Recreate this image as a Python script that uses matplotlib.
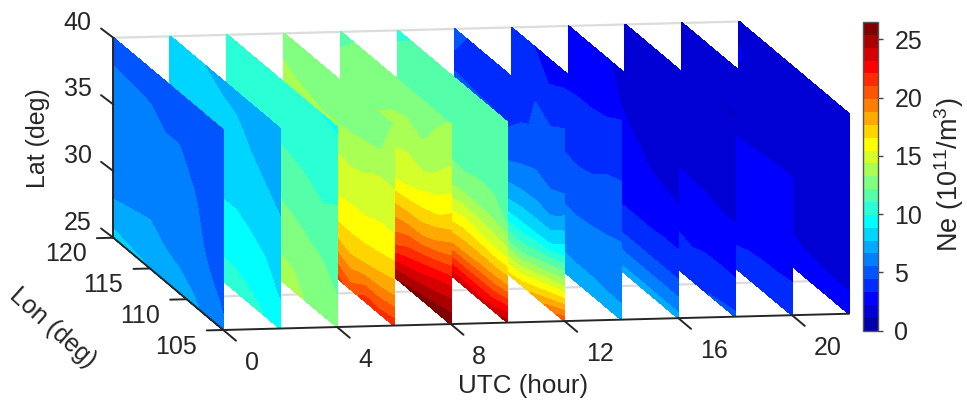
import numpy as np
import matplotlib
matplotlib.use("Agg")
import matplotlib.pyplot as plt
from matplotlib.colors import ListedColormap, BoundaryNorm
from matplotlib.cm import ScalarMappable
from matplotlib.transforms import Affine2D

plt.rcParams['font.family'] = ['Liberation Sans', 'DejaVu Sans']
plt.rcParams['mathtext.default'] = 'regular'

# ---- data -----------------------------------------------------------
hours = [0, 2, 4, 6, 8, 10, 12, 14, 16, 18, 20, 22]
lons = [105, 107, 109, 111, 113, 115, 120]
lats = [25, 27.5, 30, 32.5, 35, 37.5, 40]
# each slice: one row per longitude, values from lat 25 up to lat 40
ne_00 = [[5.7, 5.3, 5.2, 5.1, 5.0, 4.9, 4.8], [6.3, 5.7, 5.3, 5.0, 5.0, 4.9, 4.8],
         [6.8, 6.2, 5.9, 5.7, 5.3, 5.0, 4.8], [7.1, 6.45, 6.1, 5.9, 5.7, 5.3, 5.0],
         [7.4, 6.62, 6.3, 6.0, 5.7, 5.3, 5.0], [7.7, 6.9, 6.3, 6.0, 5.9, 5.5, 5.1],
         [8.1, 6.7, 6.2, 6.0, 5.9, 5.6, 5.1]]
ne_02 = [[9.5, 8.7, 8.2, 7.9, 7.4, 7.0, 6.8], [9.9, 9.2, 8.7, 8.2, 7.7, 7.2, 7.0],
         [10.2, 9.5, 8.9, 8.4, 8.0, 7.5, 7.1], [10.4, 9.7, 9.1, 8.5, 8.2, 7.9, 7.3],
         [10.5, 9.7, 9.1, 8.5, 8.2, 8.0, 7.5], [10.5, 9.6, 9.0, 8.5, 8.2, 8.0, 7.7],
         [10.5, 9.6, 9.0, 8.5, 8.2, 8.2, 8.2]]
ne_04 = [[12.6, 12.1, 11.7, 11.3, 10.9, 10.4, 9.8], [12.9, 12.4, 12.0, 11.2, 10.7, 10.5, 9.9],
         [13.1, 12.6, 12.1, 11.4, 10.9, 10.5, 10.3], [13.6, 13.0, 12.3, 11.6, 11.0, 10.5, 10.5],
         [13.9, 13.1, 12.4, 11.8, 11.1, 10.5, 10.5], [13.9, 13.0, 12.4, 11.8, 11.1, 10.5, 10.5],
         [13.9, 13.0, 12.4, 11.8, 11.1, 10.7, 10.5]]
ne_06 = [[21.6, 18.4, 16.4, 15.1, 14.4, 13.9, 13.3], [21.3, 18.1, 16.2, 15.2, 14.5, 13.1, 12.6],
         [21.5, 17.9, 16.0, 15.0, 14.2, 13.0, 12.4], [20.3, 17.7, 16.0, 15.0, 14.0, 12.9, 12.3],
         [21.4, 18.1, 15.9, 14.9, 14.2, 12.7, 12.3], [21.5, 18.1, 15.9, 14.9, 14.2, 12.7, 12.4],
         [21.5, 18.1, 15.9, 14.9, 14.2, 13.4, 12.6]]
ne_08 = [[26.3, 23.6, 20.0, 17.1, 15.3, 14.0, 13.3], [26.0, 23.0, 19.1, 16.3, 14.5, 13.6, 12.9],
         [25.8, 22.3, 18.4, 15.9, 14.1, 13.0, 12.7], [25.5, 21.6, 18.4, 15.5, 14.4, 13.3, 12.7],
         [25.2, 20.6, 18.2, 15.3, 14.2, 13.2, 12.7], [25.0, 20.0, 18.0, 15.0, 14.0, 12.6, 12.6],
         [25.0, 20.0, 18.0, 15.0, 13.5, 12.4, 11.9]]
ne_10 = [[24.7, 19.2, 15.0, 12.0, 11.8, 11.6, 11.4], [23.7, 18.9, 15.1, 12.5, 11.8, 11.5, 11.4],
         [23.6, 18.9, 15.3, 12.6, 11.8, 11.5, 11.3], [23.7, 18.7, 15.6, 12.6, 11.5, 11.3, 11.3],
         [23.8, 18.6, 15.2, 12.5, 11.8, 11.4, 11.3], [23.8, 18.6, 15.0, 12.5, 11.8, 11.3, 11.3],
         [23.8, 18.6, 15.0, 12.5, 11.8, 11.3, 10.9]]
ne_12 = [[20.6, 14.5, 9.6, 6.9, 5.2, 4.8, 4.3], [19.2, 13.6, 8.6, 6.1, 5.1, 4.6, 4.2],
         [18.0, 12.7, 8.4, 6.4, 5.3, 4.5, 4.4], [17.0, 11.9, 8.4, 6.3, 5.0, 4.3, 4.3],
         [16.6, 12.1, 8.2, 6.0, 4.6, 4.0, 4.3], [16.5, 12.0, 8.2, 6.0, 4.7, 4.2, 4.0],
         [16.5, 12.0, 8.2, 6.0, 4.7, 4.3, 4.6]]
ne_14 = [[6.9, 6.3, 5.7, 5.1, 4.5, 3.9, 3.3], [7.0, 6.2, 5.6, 5.1, 4.4, 3.8, 3.1],
         [7.0, 6.3, 5.55, 4.9, 4.1, 3.6, 3.1], [7.0, 6.3, 5.5, 4.8, 4.0, 3.6, 3.1],
         [7.2, 6.2, 5.55, 4.9, 4.1, 3.5, 3.1], [7.2, 6.2, 5.5, 4.9, 4.0, 3.4, 3.0],
         [7.2, 6.2, 5.5, 4.9, 4.0, 3.8, 3.8]]
ne_16 = [[7.0, 4.6, 3.35, 2.4, 1.9, 1.7, 1.5], [7.0, 4.6, 3.35, 2.45, 2.0, 1.7, 1.5],
         [7.0, 4.6, 3.3, 2.55, 2.1, 1.7, 1.5], [7.0, 4.6, 3.3, 2.7, 2.4, 1.8, 1.5],
         [7.0, 4.6, 3.3, 2.75, 2.55, 2.2, 1.7], [7.0, 4.6, 3.3, 2.8, 2.7, 2.7, 2.6],
         [7.0, 4.6, 3.3, 2.8, 2.8, 2.7, 2.7]]
ne_18 = [[4.6, 3.4, 2.8, 2.05, 1.5, 1.2, 1.1], [4.5, 3.4, 2.85, 2.05, 1.5, 1.2, 1.1],
         [4.4, 3.4, 2.8, 2.2, 1.6, 1.3, 1.2], [4.2, 3.3, 2.8, 2.2, 1.6, 1.3, 1.2],
         [4.2, 3.4, 2.8, 2.25, 1.7, 1.3, 1.2], [4.2, 3.4, 2.8, 2.3, 1.7, 1.3, 1.3],
         [4.2, 3.4, 2.8, 2.3, 1.7, 1.3, 1.3]]
ne_20 = [[3.9, 3.3, 2.9, 2.6, 2.3, 1.6, 1.4], [3.9, 3.25, 2.9, 2.6, 2.3, 1.6, 1.4],
         [3.8, 3.25, 2.9, 2.6, 2.25, 1.6, 1.4], [3.8, 3.2, 2.9, 2.6, 2.2, 1.7, 1.5],
         [3.7, 3.1, 2.8, 2.6, 2.2, 1.7, 1.5], [3.7, 3.1, 2.8, 2.6, 2.0, 1.7, 1.5],
         [3.7, 3.1, 2.8, 2.6, 2.0, 1.7, 1.5]]
ne_22 = [[2.6, 2.0, 1.7, 1.5, 1.4, 1.3, 1.3], [2.6, 2.0, 1.7, 1.5, 1.4, 1.3, 1.3],
         [2.6, 2.05, 1.7, 1.5, 1.4, 1.3, 1.3], [2.6, 2.1, 1.8, 1.5, 1.4, 1.3, 1.3],
         [2.6, 2.2, 1.8, 1.5, 1.4, 1.3, 1.3], [2.6, 2.2, 1.8, 1.5, 1.4, 1.6, 1.3],
         [2.6, 2.2, 1.8, 1.6, 1.8, 2.3, 1.9]]
slices = [ne_00, ne_02, ne_04, ne_06, ne_08, ne_10, ne_12, ne_14, ne_16, ne_18, ne_20, ne_22]

hour_ticks = [0, 4, 8, 12, 16, 20]
lon_ticks = [105, 110, 115, 120]
lat_ticks = [25, 30, 35, 40]
cbar_ticks = [0, 5, 10, 15, 20, 25]
vmax = 26.5
n_bands = 24

# ---- colours: the 24-step jet table --------------------------------
u = np.r_[np.arange(1, 7) / 6, np.ones(5), np.arange(6, 0, -1) / 6]
g = 3 + np.arange(1, 18)
rgb = np.zeros((n_bands, 3))
for channel, idx in enumerate([g + 6, g, g - 6]):
    keep = (idx >= 1) & (idx <= n_bands)
    rgb[idx[keep] - 1, channel] = u[keep]
cmap = ListedColormap(rgb)
levels = np.linspace(0, vmax, n_bands + 1)
norm = BoundaryNorm(levels, n_bands)

# ---- oblique projection (hour, lon, lat) -> figure pixels ----------
X0, Y0 = 223.3, 330.0
HX, HY = 28.44, -0.74
LX, LY = -7.33, -6.15
ZY = -13.33


def project(h, lon, lat):
    return (X0 + HX * h + LX * (lon - lons[0]),
            Y0 + HY * h + LY * (lon - lons[0]) + ZY * (lat - lats[0]))


DARK = '#262626'
FS = 18
fig = plt.figure(figsize=(9.67, 4.0), dpi=100)
ax = fig.add_axes([0, 0, 1, 1])

# grey box lines behind the slices
for a, b in [((hours[0], lons[-1], lats[-1]), (hours[-1], lons[-1], lats[-1])),
             ((hours[0], 110.3, lats[0]), (hours[-1], 110.3, lats[0]))]:
    p, q = project(*a), project(*b)
    ax.plot([p[0], q[0]], [p[1], q[1]], color='#dcdcdc', lw=1.6, zorder=1, solid_capstyle='butt')

# slices, far ones first
LON, LAT = np.meshgrid(lons, lats)
for i in range(len(hours) - 1, -1, -1):
    h = hours[i]
    Z = np.array(slices[i]).T
    x0, y0 = project(h, lons[0], lats[0])
    aff = Affine2D(np.array([[LX, 0, x0 - LX * lons[0]],
                             [LY, ZY, y0 - LY * lons[0] - ZY * lats[0]],
                             [0, 0, 1]]))
    cs = ax.contourf(LON, LAT, Z, levels=levels, cmap=cmap, norm=norm,
                     transform=aff + ax.transData, zorder=2 + (len(hours) - i))
    cs.set_edgecolor('face')
    cs.set_linewidth(0.4)

# black axes and ticks
top = 30
line = dict(color=DARK, lw=1.4, zorder=top, solid_capstyle='round')
for a, b in [((hours[0], lons[0], lats[0]), (hours[-1], lons[0], lats[0])),
             ((hours[0], lons[0], lats[0]), (hours[0], lons[-1], lats[0])),
             ((hours[0], lons[-1], lats[0]), (hours[0], lons[-1], lats[-1]))]:
    p, q = project(*a), project(*b)
    ax.plot([p[0], q[0]], [p[1], q[1]], **line)

for h in hour_ticks:
    x, y = project(h, lons[0], lats[0])
    ax.plot([x, x + 12.7], [y, y + 10.7], **line)
    ax.text(x + 21.5, y + 32.7, str(h), ha='left', va='center', fontsize=FS, color=DARK)
for lon in lon_ticks:
    x, y = project(hours[0], lon, lats[0])
    ax.plot([x, x - 16.5], [y, y + 0.4], **line)
    ax.text(x - 26.7, y + 16.7, str(lon), ha='right', va='center', fontsize=FS, color=DARK)
for lat in lat_ticks:
    x, y = project(hours[0], lons[-1], lat)
    ax.plot([x, x - 12.3], [y, y - 9.3], **line)
    ax.text(x - 21.6, y - 15, str(lat), ha='right', va='center', fontsize=FS, color=DARK)

ax.text(523, 386, 'UTC (hour)', ha='center', va='center', fontsize=18.7, color=DARK)
ax.text(38, 138, 'Lat (deg)', ha='center', va='center', rotation=90, fontsize=FS, color=DARK)
ax.text(53, 328, 'Lon (deg)', ha='center', va='center', rotation=-42, rotation_mode='anchor',
        fontsize=FS, color=DARK)

ax.set_xlim(0, 967)
ax.set_ylim(400, 0)
ax.axis('off')

# colorbar
W, H = 967.0, 400.0
cax = fig.add_axes([863.3 / W, 1 - 330.5 / H, 15 / W, 308.5 / H])
cb = fig.colorbar(ScalarMappable(norm=norm, cmap=cmap), cax=cax, ticks=cbar_ticks,
                  spacing='proportional', drawedges=False)
cb.ax.set_yticklabels([str(t) for t in cbar_ticks])
cb.ax.minorticks_off()
cb.ax.tick_params(axis='y', length=3.5, width=1, color='#444444', labelsize=FS,
                  labelcolor=DARK, pad=8, direction='out')
cb.outline.set_edgecolor('#555555')
cb.outline.set_linewidth(1)
ax.text(949, 175, r'Ne (10$^{11}$/m$^{3}$)', ha='center', va='center', rotation=90,
        fontsize=19.5, color=DARK)

fig.savefig('out.png', dpi=100)
